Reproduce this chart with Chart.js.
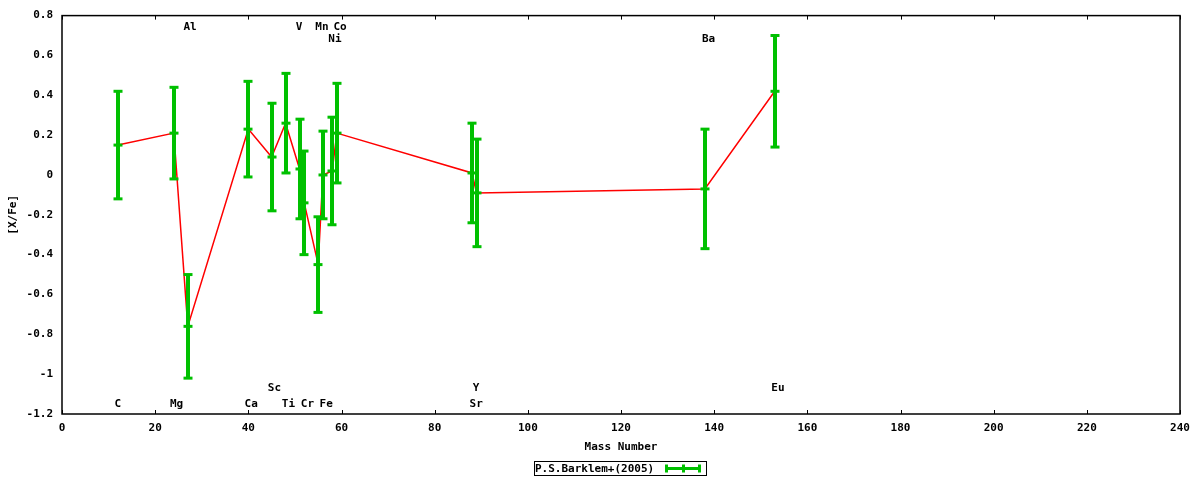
<!DOCTYPE html>
<html>
<head>
<meta charset="utf-8">
<script src="https://cdn.jsdelivr.net/npm/chart.js@4"></script>
<style>
  html, body { margin: 0; padding: 0; background: #fff; }
  #wrap { width: 1200px; height: 480px; }
</style>
</head>
<body>
<div id="wrap"><canvas id="chart" width="1200" height="480"></canvas></div>
<script>
// Abundance data, sorted by mass number
const elements    = ['C', 'Mg', 'Al', 'Ca', 'Sc', 'Ti', 'V', 'Cr', 'Mn', 'Fe', 'Ni', 'Co', 'Sr', 'Y', 'Ba', 'Eu'];
const massNumbers = [12, 24, 27, 40, 45, 48, 51, 52, 55, 56, 58, 59, 88, 89, 138, 153];
const abundances  = [0.15, 0.21, -0.76, 0.23, 0.09, 0.26, 0.03, -0.14, -0.45, 0.00, 0.02, 0.21, 0.01, -0.09, -0.07, 0.42];
const errors      = [0.27, 0.23, 0.26, 0.24, 0.27, 0.25, 0.25, 0.26, 0.24, 0.22, 0.27, 0.25, 0.25, 0.27, 0.30, 0.28];

// Element name labels (data coordinates)
const labelX = [12.0, 24.6, 27.5, 40.6, 45.6, 48.6, 50.9, 52.7, 55.8, 56.7, 58.6, 59.7, 88.9, 88.9, 138.8, 153.7];
const labelY = [-1.15, -1.15, 0.74, -1.15, -1.07, -1.15, 0.74, -1.15, 0.74, -1.15, 0.68, 0.74, -1.15, -1.07, 0.68, -1.07];

// Axis ticks
const xTicks = [0, 20, 40, 60, 80, 100, 120, 140, 160, 180, 200, 220, 240];
const yTicks = [-1.2, -1, -0.8, -0.6, -0.4, -0.2, 0, 0.2, 0.4, 0.6, 0.8];

const seriesName = 'P.S.Barklem+(2005)';
const GREEN = '#00c000';
const FONT = 'bold 11px "DejaVu Sans Mono", monospace';

function strokeLine(ctx, x1, y1, x2, y2) {
  ctx.beginPath();
  ctx.moveTo(x1, y1);
  ctx.lineTo(x2, y2);
  ctx.stroke();
}

// Draw error bars, frame, inward ticks, labels and legend like gnuplot
const gnuplotDecor = {
  id: 'gnuplotDecor',
  afterDatasetsDraw(chart) {
    const { ctx, chartArea: a, scales: { x, y } } = chart;
    ctx.save();

    // error bars
    ctx.strokeStyle = GREEN;
    massNumbers.forEach((m, i) => {
      const px = Math.round(x.getPixelForValue(m));
      const pc = y.getPixelForValue(abundances[i]);
      const pt = y.getPixelForValue(abundances[i] + errors[i]);
      const pb = y.getPixelForValue(abundances[i] - errors[i]);
      ctx.lineWidth = 4;
      strokeLine(ctx, px, pt, px, pb);
      ctx.lineWidth = 3;
      [pt, pc, pb].forEach(py => strokeLine(ctx, px - 4.5, py, px + 4.5, py));
    });

    // frame
    ctx.strokeStyle = '#000';
    ctx.lineWidth = 1.5;
    ctx.strokeRect(a.left, a.top, a.right - a.left, a.bottom - a.top);

    // inward x ticks on bottom and top
    ctx.lineWidth = 1;
    x.ticks.forEach(t => {
      const px = Math.round(x.getPixelForValue(t.value)) + 0.5;
      strokeLine(ctx, px, a.bottom, px, a.bottom - 4);
      strokeLine(ctx, px, a.top, px, a.top + 4);
    });

    // element labels
    ctx.fillStyle = '#000';
    ctx.font = FONT;
    ctx.textAlign = 'center';
    ctx.textBaseline = 'middle';
    elements.forEach((el, i) => {
      ctx.fillText(el, x.getPixelForValue(labelX[i]), y.getPixelForValue(labelY[i]));
    });

    // axis titles
    ctx.fillText('Mass Number', (a.left + a.right) / 2, 447);
    ctx.save();
    ctx.translate(13, (a.top + a.bottom) / 2);
    ctx.rotate(-Math.PI / 2);
    ctx.fillText('[X/Fe]', 0, 0);
    ctx.restore();

    // legend
    ctx.textAlign = 'left';
    ctx.fillText(chart.data.datasets[0].label, 535, 469);
    ctx.strokeStyle = '#000';
    ctx.lineWidth = 1;
    ctx.strokeRect(534.5, 461.5, 172, 14);
    ctx.strokeStyle = GREEN;
    ctx.lineWidth = 3;
    strokeLine(ctx, 665, 468.5, 701, 468.5);
    [666.5, 683.5, 699.5].forEach(px => strokeLine(ctx, px, 464.5, px, 472.5));

    ctx.restore();
  }
};

new Chart(document.getElementById('chart'), {
  type: 'line',
  data: {
    datasets: [{
      label: seriesName,
      data: massNumbers.map((m, i) => ({ x: m, y: abundances[i] })),
      showLine: false,
      pointRadius: 0,
      borderColor: GREEN,
    }, {
      label: '',
      data: massNumbers.map((m, i) => ({ x: m, y: abundances[i] })),
      borderColor: '#ff0000',
      borderWidth: 1.5,
      pointRadius: 0,
      tension: 0,
    }]
  },
  options: {
    responsive: false,
    animation: false,
    layout: { padding: { top: 14, right: 20, left: 0, bottom: 0 } },
    plugins: {
      legend: { display: false },
      tooltip: { enabled: false },
    },
    scales: {
      x: {
        type: 'linear',
        min: 0,
        max: 240,
        afterBuildTicks: scale => { scale.ticks = xTicks.map(v => ({ value: v })); },
        afterFit: scale => { scale.height = 66; },
        grid: { display: false, drawTicks: false },
        border: { display: false },
        ticks: {
          padding: 8,
          color: '#000',
          font: { family: '"DejaVu Sans Mono", monospace', size: 11, weight: 'bold' },
          callback: v => String(v),
        },
      },
      y: {
        type: 'linear',
        min: -1.2,
        max: 0.8,
        afterBuildTicks: scale => { scale.ticks = yTicks.map(v => ({ value: v })); },
        afterFit: scale => { scale.width = 62; },
        grid: { display: false, drawTicks: false },
        border: { display: false },
        ticks: {
          padding: 9,
          color: '#000',
          font: { family: '"DejaVu Sans Mono", monospace', size: 11, weight: 'bold' },
          callback: v => String(Math.round(v * 10) / 10),
        },
      },
    },
  },
  plugins: [gnuplotDecor],
});
</script>
</body>
</html>
